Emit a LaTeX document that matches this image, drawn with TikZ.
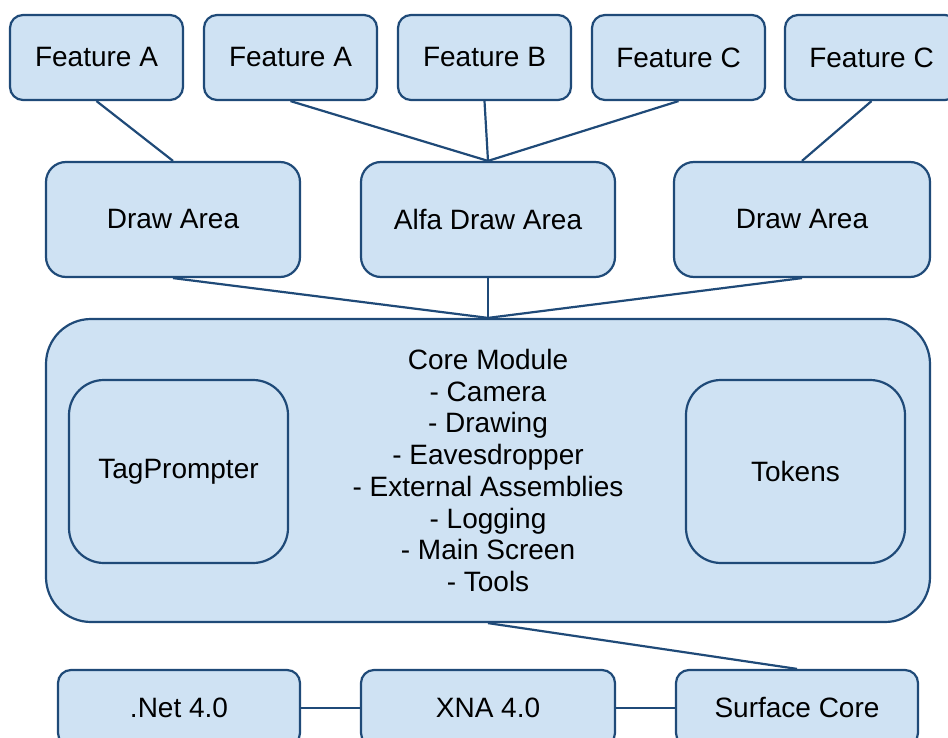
\documentclass[tikz,border=0pt]{standalone}
\usepackage{fontspec}
\setmainfont{Liberation Sans}
\definecolor{boxfill}{HTML}{CFE2F3}
\definecolor{boxline}{HTML}{1F4A78}
\begin{document}
\begin{tikzpicture}[x=1pt,y=-1pt,
  box/.style={draw=boxline, fill=boxfill, line width=2.2pt, rectangle, align=center,
    font=\fontsize{28}{31.7}\selectfont, inner sep=0pt},
  conn/.style={draw=boxline, line width=2.2pt}]
\useasboundingbox (0,0) rectangle (948,738);
\clip (0,0) rectangle (948,738);
% features
\node[box, rounded corners=13pt, minimum width=173pt, minimum height=85pt] (fa1) at (96.5,57.5) {Feature A};
\node[box, rounded corners=13pt, minimum width=173pt, minimum height=85pt] (fa2) at (290.5,57.5) {Feature A};
\node[box, rounded corners=13pt, minimum width=173pt, minimum height=85pt] (fb) at (484.5,57.5) {Feature B};
\node[box, rounded corners=13pt, minimum width=173pt, minimum height=85pt] (fc1) at (678.5,57.5) {Feature C};
\node[box, rounded corners=13pt, minimum width=173pt, minimum height=85pt] (fc2) at (871.5,57.5) {Feature C};
% draw areas
\node[box, rounded corners=20pt, minimum width=254pt, minimum height=115pt] (da1) at (173,219.5) {Draw Area};
\node[box, rounded corners=20pt, minimum width=254pt, minimum height=115pt] (alfa) at (488,219.5) {Alfa Draw Area};
\node[box, rounded corners=20pt, minimum width=256pt, minimum height=115pt] (da3) at (802,219.5) {Draw Area};
% core
\node[box, rounded corners=45pt, minimum width=884pt, minimum height=303pt] (core) at (488,470.5) {Core Module\\- Camera\\- Drawing\\- Eavesdropper\\- External Assemblies\\- Logging\\- Main Screen\\- Tools};
\node[box, rounded corners=35pt, minimum width=219pt, minimum height=183pt] (tag) at (178.5,471.5) {TagPrompter};
\node[box, rounded corners=35pt, minimum width=219pt, minimum height=183pt] (tok) at (795.5,471.5) {Tokens};
% bottom
\node[box, rounded corners=13pt, minimum width=242pt, minimum height=76pt] (net) at (179,708) {.Net 4.0};
\node[box, rounded corners=13pt, minimum width=254pt, minimum height=76pt] (xna) at (488,708) {XNA 4.0};
\node[box, rounded corners=13pt, minimum width=242pt, minimum height=76pt] (surf) at (797,708) {Surface Core};
% connectors
\draw[conn] (fa1.south) -- (da1.north);
\draw[conn] (fa2.south) -- (alfa.north);
\draw[conn] (fb.south) -- (alfa.north);
\draw[conn] (fc1.south) -- (alfa.north);
\draw[conn] (fc2.south) -- (da3.north);
\draw[conn] (da1.south) -- (core.north);
\draw[conn] (alfa.south) -- (core.north);
\draw[conn] (da3.south) -- (core.north);
\draw[conn] (core.south) -- (surf.north);
\draw[conn] (net.east) -- (xna.west);
\draw[conn] (xna.east) -- (surf.west);
\end{tikzpicture}
\end{document}
